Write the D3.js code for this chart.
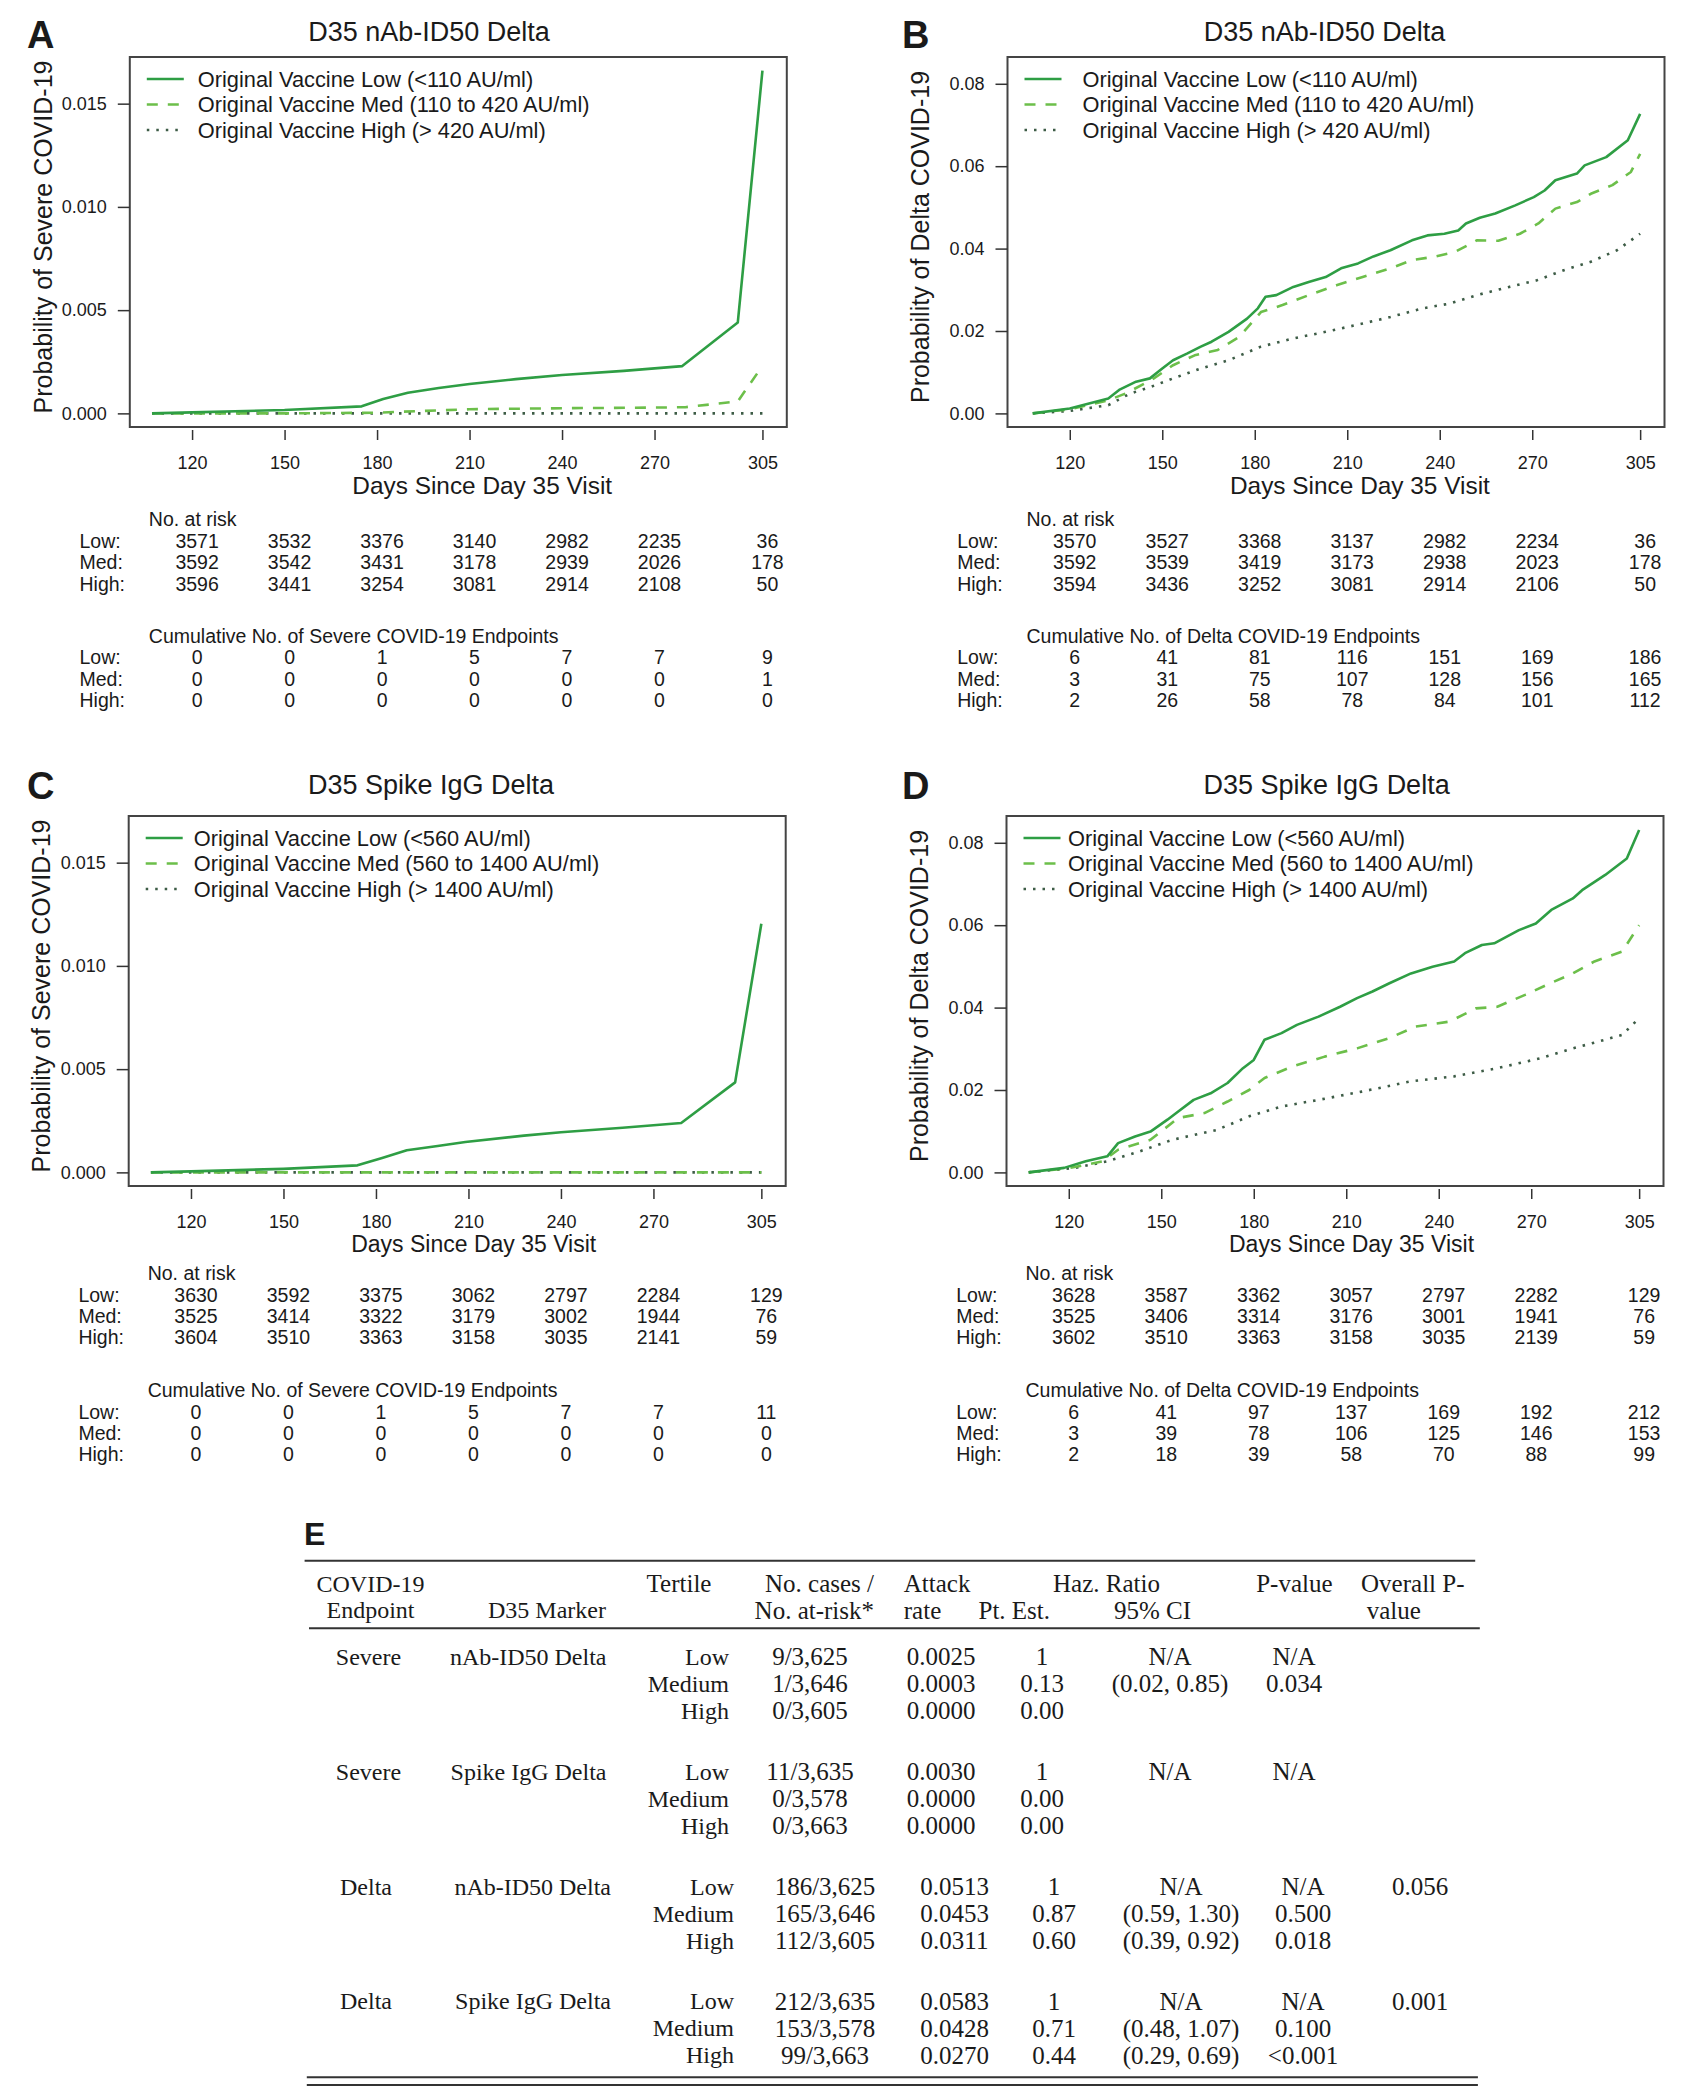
<!DOCTYPE html>
<html>
<head>
<meta charset="utf-8">
<script src="https://cdn.jsdelivr.net/npm/d3@7"></script>
<style>
body { margin: 0; background: #fff; }
</style>
</head>
<body>
<div id="graphic"></div>
<script>
// ---- data ----
const days = [120, 150, 180, 210, 240, 270, 305];
const tertiles = ["Low:", "Med:", "High:"];
const nabLabels = ["Original Vaccine Low (<110 AU/ml)", "Original Vaccine Med (110 to 420 AU/ml)", "Original Vaccine High (> 420 AU/ml)"];
const spikeLabels = ["Original Vaccine Low (<560 AU/ml)", "Original Vaccine Med (560 to 1400 AU/ml)", "Original Vaccine High (> 1400 AU/ml)"];

// cumulative probability curves [day, probability]
const sevNabLow = [[107,0],[120,0.00005],[150,0.00016],[175,0.00034],[182,0.0007],[190,0.001],[200,0.00123],[210,0.00142],[225,0.00166],[240,0.00186],[260,0.00206],[279,0.00229],[297,0.0044],[305,0.0166]];
const sevNabMed = [[107,0],[150,0],[180,0.00003],[195,0.00012],[210,0.0002],[240,0.00025],[270,0.00028],[280,0.0003],[297,0.00058],[305,0.0023]];
const sevNabHigh = [[107,0],[305,0]];

const delNabLow = [[108,0],[120,0.0012],[132.5,0.0036],[136,0.0057],[141.5,0.0077],[146,0.0085],[150,0.0109],[153.5,0.0129],[158,0.0145],[162.5,0.0162],[166,0.0174],[171.5,0.0198],[177.5,0.023],[181,0.0255],[183.5,0.0283],[187,0.0287],[192.5,0.0307],[197.5,0.0319],[203,0.0331],[208,0.0352],[213.5,0.0364],[218.5,0.0381],[224,0.0396],[231,0.042],[236,0.0432],[241.5,0.0436],[246,0.0444],[248.5,0.0461],[253,0.0475],[258,0.0485],[264.5,0.0505],[270.5,0.0525],[274,0.0541],[277.5,0.0566],[284.5,0.0582],[287,0.0602],[294,0.0622],[301,0.0663],[305,0.0727]];
const delNabMed = [[108,0],[120,0.001],[132.5,0.0032],[138,0.0048],[146.5,0.0081],[153.5,0.0117],[160.5,0.0141],[168,0.0154],[175,0.0186],[182,0.0246],[189,0.0263],[197.5,0.0287],[206.5,0.0311],[215,0.0331],[224,0.0352],[231,0.0372],[238,0.038],[245,0.0392],[252,0.042],[259,0.0419],[266,0.0436],[272,0.0461],[277.5,0.0497],[284.5,0.0513],[289,0.0533],[296,0.0554],[302,0.0586],[305,0.063]];
const delNabHigh = [[108,0],[120,0.0006],[132.5,0.002],[139.5,0.0048],[146.5,0.0065],[153.5,0.0085],[162.5,0.0109],[171.5,0.0129],[182,0.0162],[192.5,0.0182],[203,0.0198],[215,0.0218],[224,0.0234],[234.5,0.0255],[243.5,0.0267],[252,0.0287],[262.5,0.0307],[271.5,0.0323],[280,0.0347],[289,0.0368],[297.5,0.0396],[305,0.0436]];

const sevSpikeLow = [[107,0],[120,0.00005],[150,0.00017],[174,0.00034],[182,0.0007],[190,0.00107],[200,0.00128],[209,0.00147],[228,0.00178],[240,0.00194],[260,0.00216],[279,0.00239],[296.5,0.00436],[305,0.01204]];
const sevSpikeMed = [[107,0],[305,0]];
const sevSpikeHigh = [[107,0],[305,0]];

const delSpikeLow = [[107,0],[118.5,0.0011],[125.5,0.0027],[132.5,0.0039],[136,0.0071],[141.5,0.0087],[146.5,0.0099],[152,0.0128],[155.5,0.0148],[160.5,0.0176],[166,0.0192],[171.5,0.0217],[176.5,0.0253],[180,0.0273],[183.5,0.0322],[189,0.0338],[194,0.0358],[201,0.0378],[208,0.0402],[213.5,0.0423],[218.5,0.0439],[224,0.0459],[231,0.0483],[238,0.0499],[245,0.0512],[248.5,0.0532],[254,0.0552],[258,0.0556],[266,0.0588],[271.5,0.0604],[276.5,0.0637],[283.5,0.0665],[286.5,0.0685],[294,0.0722],[301,0.0762],[305,0.0831]];
const delSpikeMed = [[107,0],[120.5,0.0011],[131,0.0027],[136,0.0055],[146.5,0.0079],[155.5,0.0132],[164,0.0144],[171.5,0.0172],[178.5,0.02],[183.5,0.0229],[192.5,0.0257],[203,0.0281],[213.5,0.0301],[224,0.0326],[232.5,0.0354],[243.5,0.0366],[252,0.0398],[259,0.0402],[268,0.0431],[275,0.0455],[283.5,0.0483],[290.5,0.0512],[299.5,0.0536],[305,0.06]];
const delSpikeHigh = [[107,0],[122,0.0011],[132.5,0.0027],[143,0.0051],[153.5,0.0079],[168,0.0103],[178.5,0.0136],[189,0.016],[201,0.0176],[215,0.0196],[231,0.0221],[245,0.0233],[259,0.0253],[273,0.0277],[283.5,0.0301],[294,0.0322],[299.5,0.0334],[305,0.0374]];

// number at risk / cumulative endpoints (rows: Low, Med, High)
const riskSevNab = [[3571,3532,3376,3140,2982,2235,36],[3592,3542,3431,3178,2939,2026,178],[3596,3441,3254,3081,2914,2108,50]];
const cumSevNab = [[0,0,1,5,7,7,9],[0,0,0,0,0,0,1],[0,0,0,0,0,0,0]];
const riskDelNab = [[3570,3527,3368,3137,2982,2234,36],[3592,3539,3419,3173,2938,2023,178],[3594,3436,3252,3081,2914,2106,50]];
const cumDelNab = [[6,41,81,116,151,169,186],[3,31,75,107,128,156,165],[2,26,58,78,84,101,112]];
const riskSevSpike = [[3630,3592,3375,3062,2797,2284,129],[3525,3414,3322,3179,3002,1944,76],[3604,3510,3363,3158,3035,2141,59]];
const cumSevSpike = [[0,0,1,5,7,7,11],[0,0,0,0,0,0,0],[0,0,0,0,0,0,0]];
const riskDelSpike = [[3628,3587,3362,3057,2797,2282,129],[3525,3406,3314,3176,3001,1941,76],[3602,3510,3363,3158,3035,2139,59]];
const cumDelSpike = [[6,41,97,137,169,192,212],[3,39,78,106,125,146,153],[2,18,39,58,70,88,99]];

// table E
const tabEndpoint = ["Severe", "Severe", "Delta", "Delta"];
const tabMarker = ["nAb-ID50 Delta", "Spike IgG Delta", "nAb-ID50 Delta", "Spike IgG Delta"];
const tabTertile = ["Low", "Medium", "High"];
const tabCases = [["9/3,625","1/3,646","0/3,605"],["11/3,635","0/3,578","0/3,663"],["186/3,625","165/3,646","112/3,605"],["212/3,635","153/3,578","99/3,663"]];
const tabAttack = [["0.0025","0.0003","0.0000"],["0.0030","0.0000","0.0000"],["0.0513","0.0453","0.0311"],["0.0583","0.0428","0.0270"]];
const tabPtEst = [["1","0.13","0.00"],["1","0.00","0.00"],["1","0.87","0.60"],["1","0.71","0.44"]];
const tabCI = [["N/A","(0.02, 0.85)",""],["N/A","",""],["N/A","(0.59, 1.30)","(0.39, 0.92)"],["N/A","(0.48, 1.07)","(0.29, 0.69)"]];
const tabP = [["N/A","0.034",""],["N/A","",""],["N/A","0.500","0.018"],["N/A","0.100","<0.001"]];
const tabOverall = ["", "", "0.056", "0.001"];

// ---- drawing ----
const SANS = '"Liberation Sans", Arial, sans-serif';
const SERIF = '"Liberation Serif", "Times New Roman", serif';
const INK = "#1a1a1a";

const svg = d3.select("#graphic").append("svg")
  .attr("width", 1696).attr("height", 2100)
  .style("background", "#fff");

const styles = [
  { color: "#2e9e44", dash: null, w: 2.6 },
  { color: "#6cbf4a", dash: "11,10", w: 2.6 },
  { color: "#3d5c46", dash: "2.5,7", w: 2.6 }
];

const sevTicks = [0, 0.005, 0.010, 0.015];
const delTicks = [0, 0.02, 0.04, 0.06, 0.08];

const panels = [
  { key: "A", left: 129.8, top: 57, title: "D35 nAb-ID50 Delta", titleX: 429, titleY: 32, labX: 27, labY: 48,
    ylab: "Probability of Severe COVID-19", ydom: [-0.00066, 0.01726], yticks: sevTicks, yfmt: d3.format(".3f"),
    series: [sevNabLow, sevNabMed, sevNabHigh], legend: nabLabels, legDx: 68,
    risk: riskSevNab, cum: cumSevNab, cumTitle: "Cumulative No. of Severe COVID-19 Endpoints",
    narY: 519.3, cumY: 635.7, rowStep: 21.4, daysFont: 24.4 },
  { key: "B", left: 1007.5, top: 57, title: "D35 nAb-ID50 Delta", titleX: 1324.5, titleY: 32, labX: 902, labY: 48,
    ylab: "Probability of Delta COVID-19", ydom: [-0.0033, 0.0865], yticks: delTicks, yfmt: d3.format(".2f"),
    series: [delNabLow, delNabMed, delNabHigh], legend: nabLabels, legDx: 75,
    risk: riskDelNab, cum: cumDelNab, cumTitle: "Cumulative No. of Delta COVID-19 Endpoints",
    narY: 519.3, cumY: 635.7, rowStep: 21.4, daysFont: 24.4 },
  { key: "C", left: 128.7, top: 816, title: "D35 Spike IgG Delta", titleX: 431, titleY: 785, labX: 27, labY: 799,
    ylab: "Probability of Severe COVID-19", ydom: [-0.00066, 0.01726], yticks: sevTicks, yfmt: d3.format(".3f"),
    series: [sevSpikeLow, sevSpikeMed, sevSpikeHigh], legend: spikeLabels, legDx: 65,
    risk: riskSevSpike, cum: cumSevSpike, cumTitle: "Cumulative No. of Severe COVID-19 Endpoints",
    narY: 1273.3, cumY: 1390, rowStep: 21.2, daysFont: 23 },
  { key: "D", left: 1006.5, top: 816, title: "D35 Spike IgG Delta", titleX: 1326.6, titleY: 785, labX: 902, labY: 799,
    ylab: "Probability of Delta COVID-19", ydom: [-0.0033, 0.0865], yticks: delTicks, yfmt: d3.format(".2f"),
    series: [delSpikeLow, delSpikeMed, delSpikeHigh], legend: spikeLabels, legDx: 61.5,
    risk: riskDelSpike, cum: cumDelSpike, cumTitle: "Cumulative No. of Delta COVID-19 Endpoints",
    narY: 1273.3, cumY: 1390, rowStep: 21.2, daysFont: 23 }
];

const W = 657, H = 370;

function drawPanel(p) {
  const g = svg.append("g").attr("font-family", SANS).attr("fill", INK);
  const x = d3.scaleLinear().domain([99.8, 312.9]).range([p.left, p.left + W]);
  const y = d3.scaleLinear().domain(p.ydom).range([p.top + H, p.top]);

  // panel letter + title
  g.append("text").attr("x", p.labX).attr("y", p.labY)
    .attr("font-size", 38).attr("font-weight", "bold").text(p.key);
  g.append("text").attr("x", p.titleX).attr("y", p.titleY).attr("dy", "0.35em")
    .attr("text-anchor", "middle").attr("font-size", 27).text(p.title);

  // curves
  const line = d3.line().x(d => x(d[0])).y(d => y(d[1]));
  [2, 1, 0].forEach(i => {
    g.append("path").datum(p.series[i])
      .attr("d", line).attr("fill", "none")
      .attr("stroke", styles[i].color).attr("stroke-width", styles[i].w)
      .attr("stroke-dasharray", styles[i].dash)
      .attr("stroke-linejoin", "round");
  });

  // box
  g.append("rect").attr("x", p.left).attr("y", p.top).attr("width", W).attr("height", H)
    .attr("fill", "none").attr("stroke", "#444").attr("stroke-width", 2);

  // y axis
  const ya = g.append("g").attr("transform", `translate(${p.left},0)`)
    .call(d3.axisLeft(y).tickValues(p.yticks).tickSize(12).tickPadding(11).tickFormat(p.yfmt));
  ya.select(".domain").remove();
  ya.selectAll("line").attr("stroke", "#333").attr("stroke-width", 1.5);
  ya.selectAll("text").attr("font-size", 18).attr("font-family", SANS).attr("fill", INK);
  ya.attr("font-family", null).attr("font-size", null);

  // x axis
  const xa = g.append("g").attr("transform", `translate(0,${p.top + H + 3})`)
    .call(d3.axisBottom(x).tickValues(days).tickSize(10).tickFormat(d3.format("d")));
  xa.select(".domain").remove();
  xa.selectAll("line").attr("stroke", "#333").attr("stroke-width", 1.5);
  xa.selectAll("text").attr("y", 33).attr("dy", "0.35em")
    .attr("font-size", 18).attr("font-family", SANS).attr("fill", INK);
  xa.attr("font-family", null).attr("font-size", null);

  // axis titles
  g.append("text").attr("x", p.left + 222.5).attr("y", p.top + H + 58).attr("dy", "0.35em")
    .attr("font-size", p.daysFont).text("Days Since Day 35 Visit");
  g.append("text")
    .attr("transform", `translate(${p.left - 87},${p.top + H / 2 - 5}) rotate(-90)`)
    .attr("text-anchor", "middle").attr("dy", "0.35em").attr("font-size", 25).text(p.ylab);

  // legend
  p.legend.forEach((lab, i) => {
    const ly = p.top + 22 + i * 25.5;
    g.append("line").attr("x1", p.left + 17).attr("x2", p.left + 54).attr("y1", ly).attr("y2", ly)
      .attr("stroke", styles[i].color).attr("stroke-width", styles[i].w)
      .attr("stroke-dasharray", styles[i].dash);
    g.append("text").attr("x", p.left + p.legDx).attr("y", ly).attr("dy", "0.35em")
      .attr("font-size", 21.8).text(lab);
  });

  // risk tables
  function table(headY, head, rows) {
    g.append("text").attr("x", p.left + 19).attr("y", headY).attr("dy", "0.35em")
      .attr("font-size", 19.5).text(head);
    rows.forEach((vals, i) => {
      const ry = headY + 21.7 + i * p.rowStep;
      g.append("text").attr("x", p.left - 50.3).attr("y", ry).attr("dy", "0.35em")
        .attr("font-size", 19.5).text(tertiles[i]);
      g.selectAll(null).data(vals).join("text")
        .attr("x", (d, j) => x(days[j]) + 5).attr("y", ry).attr("dy", "0.35em")
        .attr("text-anchor", "middle").attr("font-size", 19.5).text(d => d);
    });
  }
  table(p.narY, "No. at risk", p.risk);
  table(p.cumY, p.cumTitle, p.cum);
}

panels.forEach(drawPanel);

// ---- table E ----
const tE = svg.append("g").attr("font-family", SERIF).attr("fill", INK);
tE.append("text").attr("x", 304).attr("y", 1545).attr("font-family", SANS)
  .attr("font-weight", "bold").attr("font-size", 32).text("E");

function rule(x1, x2, yy) {
  tE.append("line").attr("x1", x1).attr("x2", x2).attr("y1", yy).attr("y2", yy)
    .attr("stroke", "#333").attr("stroke-width", 2);
}
rule(304.6, 1475.2, 1560.7);
rule(309, 1479.8, 1628.3);
rule(306.8, 1477.9, 2077.3);
rule(306.8, 1477.9, 2085);

function put(xx, yy, str, anchor, size) {
  tE.append("text").attr("x", xx).attr("y", yy).attr("dy", "0.35em")
    .attr("text-anchor", anchor).attr("font-size", size).text(str);
}

// header
const h1 = 1583.3, h2 = 1610;
put(370.5, h1, "COVID-19", "middle", 24);
put(370.5, h2, "Endpoint", "middle", 24);
put(606, h2, "D35 Marker", "end", 24);
put(679, h1, "Tertile", "middle", 25);
put(874, h1, "No.  cases /", "end", 25);
put(874, h2, "No.  at-risk*", "end", 25);
put(903.8, h1, "Attack", "start", 25);
put(903.8, h2, "rate", "start", 25);
put(978.5, h2, "Pt.  Est.", "start", 25);
put(1053, h1, "Haz.  Ratio", "start", 25);
put(1152.6, h2, "95% CI", "middle", 25);
put(1294.4, h1, "P-value", "middle", 25);
put(1412.8, h1, "Overall P-", "middle", 25);
put(1393.7, h2, "value", "middle", 25);

const colTop = { end: 368.5, mark: 606.5, tert: 729, cases: 810, attack: 941, pt: 1042, ci: 1170, p: 1294, all: 1420 };
const colBot = { end: 366, mark: 611, tert: 734, cases: 825, attack: 954.5, pt: 1054, ci: 1181, p: 1303, all: 1420 };

tabEndpoint.forEach((ep, b) => {
  const c = b < 2 ? colTop : colBot;
  const by = 1656.7 + b * 114.7;
  put(c.end, by, ep, "middle", 24);
  put(c.mark, by, tabMarker[b], "end", 24);
  put(c.all, by, tabOverall[b], "middle", 25);
  tabTertile.forEach((t, r) => {
    const ry = by + r * 27;
    put(c.tert, ry, t, "end", 24);
    put(c.cases, ry, tabCases[b][r], "middle", 25);
    put(c.attack, ry, tabAttack[b][r], "middle", 25);
    put(c.pt, ry, tabPtEst[b][r], "middle", 25);
    put(c.ci, ry, tabCI[b][r], "middle", 25);
    put(c.p, ry, tabP[b][r], "middle", 25);
  });
});
</script>
</body>
</html>
